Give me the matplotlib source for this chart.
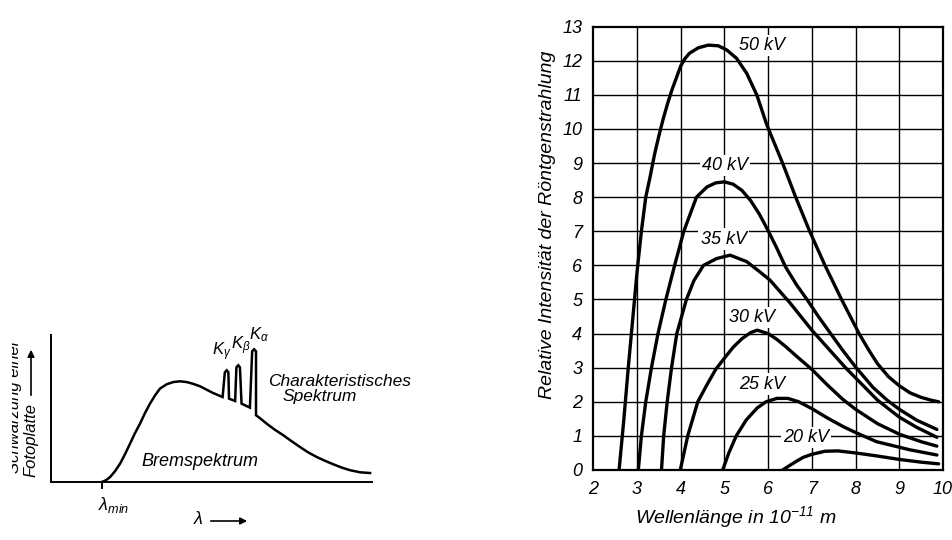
import matplotlib
matplotlib.use("Agg")
import matplotlib.pyplot as plt
from matplotlib.patches import Rectangle, FancyArrowPatch

plt.rcParams['font.family'] = ['Liberation Sans', 'DejaVu Sans']
plt.rcParams['font.style'] = 'italic'
plt.rcParams['mathtext.fontset'] = 'custom'
plt.rcParams['mathtext.it'] = 'Liberation Sans:italic'
plt.rcParams['mathtext.rm'] = 'Liberation Sans:italic'
plt.rcParams['mathtext.default'] = 'it'

# ---------------- data: right panel (wavelength in 1e-11 m, relative intensity) ----
labels_kv = ['50 kV', '40 kV', '35 kV', '30 kV', '25 kV', '20 kV']

wl_50 = [2.59, 2.70, 2.80, 2.90, 3.00, 3.10, 3.20, 3.30, 3.40, 3.50, 3.60, 3.70, 3.80,
         3.90, 4.00, 4.10, 4.20, 4.40, 4.63, 4.86, 5.05, 5.28, 5.51, 5.74, 5.97, 6.33,
         6.63, 6.95, 7.30, 7.68, 8.08, 8.30, 8.50, 8.75, 9.00, 9.25, 9.50, 9.75, 9.90]
I_50 = [0.0, 1.5, 3.0, 4.4, 5.8, 7.0, 8.0, 8.6, 9.25, 9.8, 10.3, 10.75, 11.15,
        11.5, 11.85, 12.07, 12.22, 12.38, 12.46, 12.44, 12.32, 12.07, 11.63, 11.0, 10.12, 9.0,
        8.0, 7.0, 6.0, 5.0, 4.0, 3.52, 3.12, 2.74, 2.47, 2.26, 2.13, 2.04, 2.0]

wl_40 = [3.03, 3.10, 3.20, 3.33, 3.48, 3.66, 3.86, 4.07, 4.36, 4.60, 4.80, 5.00, 5.20,
         5.40, 5.60, 5.80, 6.00, 6.20, 6.40, 6.65, 6.90, 7.15, 7.43, 7.70, 8.00, 8.40,
         8.72, 9.00, 9.40, 9.86]
I_40 = [0.0, 1.0, 2.0, 3.0, 4.0, 5.0, 6.0, 7.0, 8.0, 8.3, 8.42, 8.45, 8.38,
        8.2, 7.9, 7.5, 7.02, 6.5, 5.95, 5.43, 4.98, 4.5, 4.0, 3.52, 3.02, 2.42,
        2.05, 1.78, 1.46, 1.19]

wl_35 = [3.56, 3.61, 3.69, 3.79, 3.91, 4.13, 4.30, 4.52, 4.82, 5.13, 5.51, 5.80, 6.04,
         6.50, 7.00, 7.77, 8.50, 9.00, 9.40, 9.86]
I_35 = [0.0, 1.0, 2.0, 3.0, 4.0, 5.0, 5.55, 6.0, 6.2, 6.3, 6.11, 5.82, 5.57,
        4.9, 4.1, 3.0, 2.05, 1.55, 1.25, 0.96]

wl_30 = [3.99, 4.16, 4.39, 4.60, 4.80, 5.00, 5.20, 5.40, 5.60, 5.75, 6.00, 6.20, 6.40,
         6.70, 7.00, 7.35, 7.70, 8.00, 8.50, 9.00, 9.50, 9.86]
I_30 = [0.0, 1.0, 2.0, 2.5, 2.95, 3.28, 3.6, 3.85, 4.03, 4.1, 4.0, 3.83, 3.62,
        3.28, 2.95, 2.5, 2.08, 1.78, 1.36, 1.05, 0.83, 0.70]

wl_25 = [4.96, 5.10, 5.27, 5.50, 5.75, 5.95, 6.20, 6.45, 6.70, 7.00, 7.35, 7.72, 8.00,
         8.48, 9.25, 9.86]
I_25 = [0.0, 0.5, 1.0, 1.47, 1.82, 2.0, 2.1, 2.1, 2.0, 1.8, 1.53, 1.27, 1.1,
        0.83, 0.59, 0.44]

wl_20 = [6.33, 6.60, 6.80, 7.00, 7.30, 7.60, 8.00, 8.50, 9.00, 9.50, 9.90]
I_20 = [0.0, 0.22, 0.37, 0.46, 0.55, 0.56, 0.50, 0.41, 0.31, 0.23, 0.18]

x_ticks = [2, 3, 4, 5, 6, 7, 8, 9, 10]
y_ticks = list(range(0, 14))

# ---------------- data: left panel (schematic spectrum, arbitrary units) ----
brems_x = [1.59, 1.72, 1.85, 2.00, 2.16, 2.31, 2.47, 2.62, 2.78, 2.93, 3.09, 3.25,
           3.40, 3.61, 3.82, 4.02, 4.23, 4.43, 4.65, 4.86, 5.06, 5.35,
           5.42, 5.48, 5.53, 5.55, 5.74,
           5.78, 5.84, 5.89, 5.94, 6.20,
           6.27, 6.33, 6.39, 6.39, 6.52, 6.72, 6.98, 7.24, 7.50, 7.76, 8.01,
           8.28, 8.54, 8.80, 9.06, 9.32, 9.63, 9.94]
brems_y = [0.00, 0.12, 0.34, 0.73, 1.25, 1.88, 2.61, 3.31, 3.97, 4.67, 5.33, 5.90,
           6.35, 6.65, 6.80, 6.85, 6.80, 6.68, 6.51, 6.27, 6.05, 5.78,
           7.46, 7.60, 7.46, 5.67, 5.51,
           7.80, 7.94, 7.80, 5.33, 5.06,
           8.89, 9.03, 8.89, 4.54, 4.33, 3.97, 3.55, 3.18, 2.77, 2.38, 2.02,
           1.70, 1.44, 1.20, 0.98, 0.80, 0.66, 0.61]
lambda_min = 1.59

# ---------------- figure ----------------
W, H = 953, 540
fig = plt.figure(figsize=(W / 100, H / 100), dpi=100)
fig.patch.set_facecolor('white')


def fx(px):
    return px / W


def fy(py):
    return 1 - py / H


def box(l, t, r, b):
    return [fx(l), fy(b), fx(r) - fx(l), fy(t) - fy(b)]


# ===== right panel =====
ax = fig.add_axes(box(593.3, 26.7, 943, 470))
ax.set_xlim(2, 10)
ax.set_ylim(0, 13)
for xv in x_ticks[1:-1]:
    ax.plot([xv, xv], [0, 13], color='black', lw=1.0, zorder=1)
for yv in y_ticks[1:-1]:
    ax.plot([2, 10], [yv, yv], color='black', lw=1.0, zorder=1)

curves = [(wl_50, I_50), (wl_40, I_40), (wl_35, I_35),
          (wl_30, I_30), (wl_25, I_25), (wl_20, I_20)]
for xs, ys in curves:
    ax.plot(xs, ys, color='black', lw=2.4, zorder=4,
            solid_joinstyle='round', solid_capstyle='round')

label_pos = [(5.87, 12.45), (5.02, 8.93), (4.98, 6.77),
             (5.62, 4.47), (5.86, 2.52), (6.86, 0.95)]
for lab, (lx, ly) in zip(labels_kv, label_pos):
    ax.text(lx, ly, lab, ha='center', va='center', fontsize=13, zorder=3,
            bbox=dict(facecolor='white', edgecolor='none', pad=1.5))

ax.set_xticks(x_ticks)
ax.set_yticks(y_ticks)
ax.tick_params(length=0, labelsize=13)
ax.tick_params(axis='x', pad=8)
ax.tick_params(axis='y', pad=8)
for s in ax.spines.values():
    s.set_linewidth(1.6)

fig.text(fx(547), fy(225), 'Relative Intensität der Röntgenstrahlung',
         rotation=90, ha='center', va='center', fontsize=14)
fig.text(fx(736), fy(517), r'Wellenlänge in 10$^{-11}$ m',
         ha='center', va='center', fontsize=14)

# ===== left panel =====
axl = fig.add_axes(box(50.7, 335, 372, 482))
axl.set_xlim(0, 10)
axl.set_ylim(0, 10)
axl.spines['top'].set_visible(False)
axl.spines['right'].set_visible(False)
for s in ('left', 'bottom'):
    axl.spines[s].set_linewidth(1.4)
axl.set_xticks([])
axl.set_yticks([])
axl.patch.set_alpha(0)
axl.plot(brems_x, brems_y, color='black', lw=1.8, clip_on=False,
         solid_joinstyle='miter')
axl.plot([lambda_min, lambda_min], [0, -0.4], color='black', lw=1.4, clip_on=False)

fig.text(fx(222), fy(352), r'$K_{\gamma}$', ha='center', va='center', fontsize=12)
fig.text(fx(241), fy(346), r'$K_{\beta}$', ha='center', va='center', fontsize=12)
fig.text(fx(259), fy(335), r'$K_{\alpha}$', ha='center', va='center', fontsize=12)
fig.text(fx(268), fy(381), 'Charakteristisches', ha='left', va='center', fontsize=12.5)
fig.text(fx(283), fy(397), 'Spektrum', ha='left', va='center', fontsize=12.5)
fig.text(fx(200), fy(462), 'Bremspektrum', ha='center', va='center', fontsize=13)
fig.text(fx(98), fy(505), r'$\lambda_{min}$', ha='left', va='center', fontsize=13)
fig.text(fx(198), fy(520), 'λ', ha='center', va='center', fontsize=13)
fig.add_artist(FancyArrowPatch(
    (fx(208), fy(521)), (fx(250), fy(521)), transform=fig.transFigure,
    arrowstyle='-|>', mutation_scale=10, lw=1.2, color='black'))

fig.text(fx(31), fy(477), 'Fotoplatte', rotation=90, ha='center', va='bottom', fontsize=12)
fig.add_artist(FancyArrowPatch(
    (fx(31), fy(398)), (fx(31), fy(347)), transform=fig.transFigure,
    arrowstyle='-|>', mutation_scale=10, lw=1.2, color='black'))
fig.text(fx(15), fy(473), 'Schwärzung einer', rotation=90, ha='center', va='bottom',
         fontsize=12)
fig.add_artist(Rectangle((0, fy(480)), fx(12.5), fy(330) - fy(480),
                         transform=fig.transFigure, facecolor='white',
                         edgecolor='none', zorder=10))

fig.savefig('out.png', dpi=100)
